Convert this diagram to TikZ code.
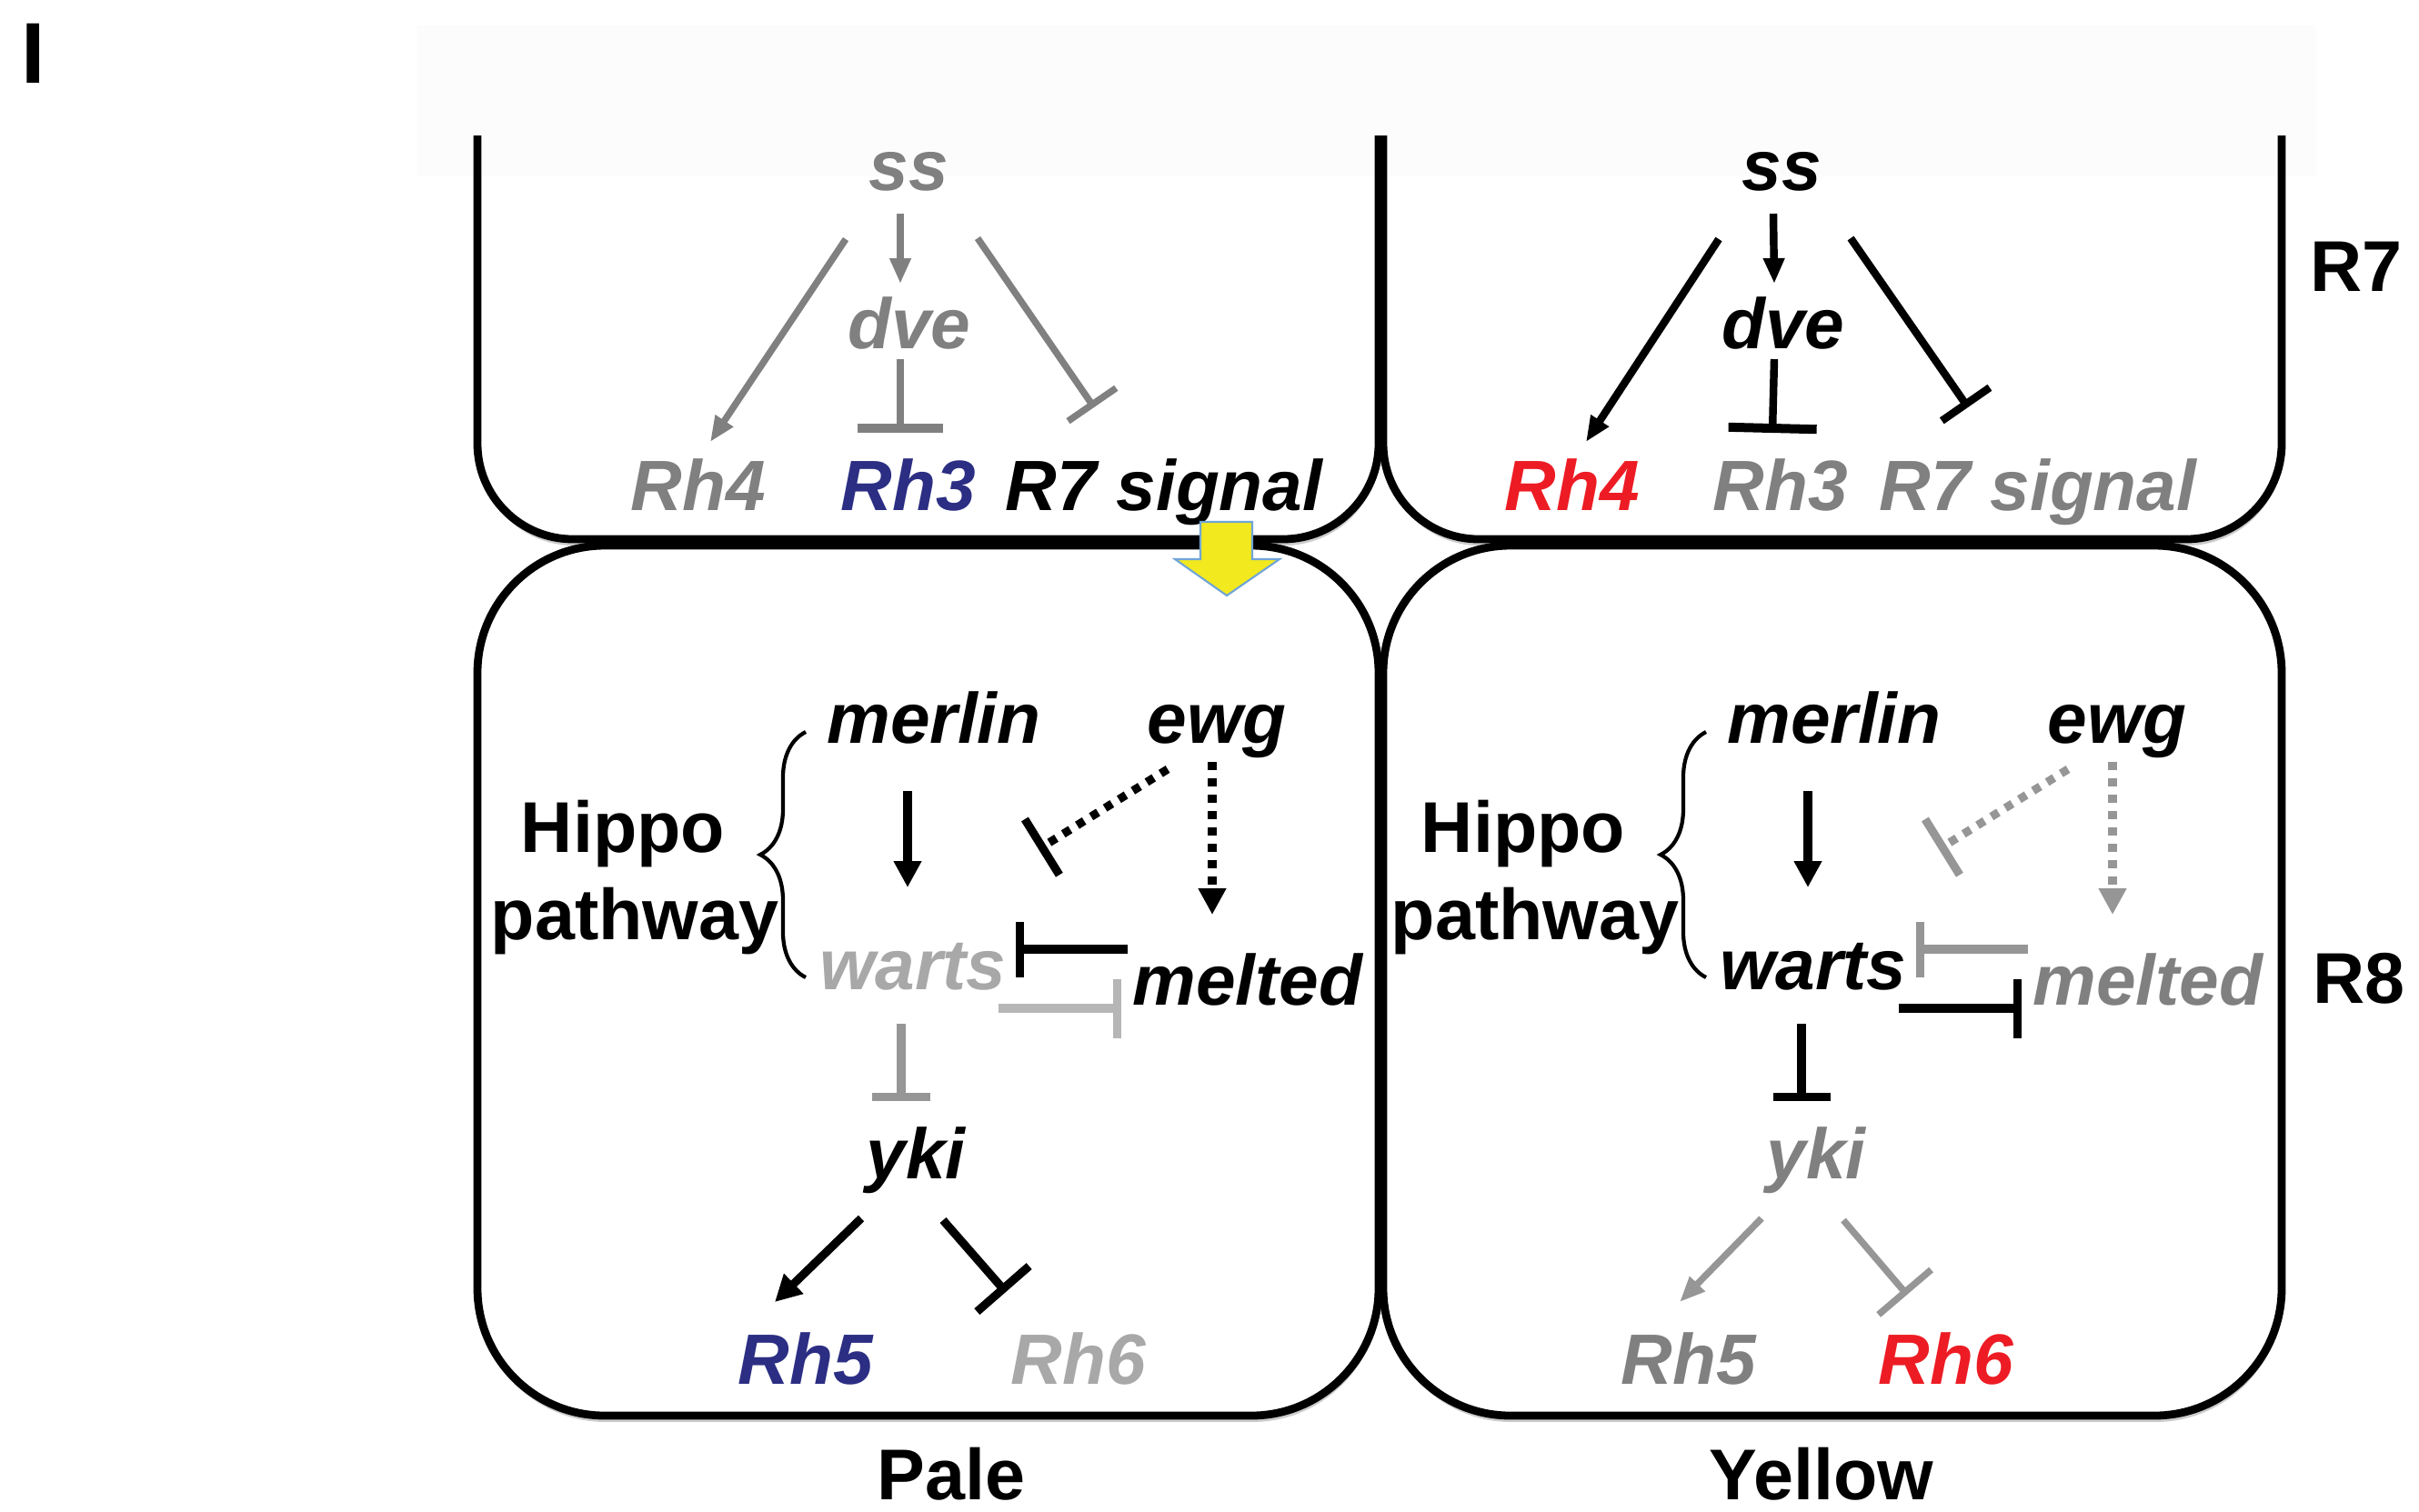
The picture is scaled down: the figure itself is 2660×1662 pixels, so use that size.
\documentclass[tikz,border=0pt]{standalone}
\usepackage{fontspec}
\setmainfont{Liberation Sans}
\usetikzlibrary{arrows.meta,shadows,decorations.pathreplacing}
\definecolor{rhblue}{RGB}{43,46,131}
\definecolor{rhred}{RGB}{237,28,36}
\definecolor{midgray}{RGB}{128,128,128}
\definecolor{softgray}{RGB}{168,168,168}
\definecolor{linegray}{RGB}{150,150,150}
\definecolor{palegray}{RGB}{182,182,182}
\definecolor{signyellow}{RGB}{242,233,30}
\definecolor{signblue}{RGB}{111,165,216}

\begin{document}
\begin{tikzpicture}[x=0.01cm, y=-0.01cm,
        gene/.style={font=\bfseries\itshape\fontsize{22.3}{26}\selectfont, inner sep=0pt, anchor=base},
        lab/.style={font=\bfseries\fontsize{22.5}{26}\selectfont, inner sep=0pt, anchor=base},
        cell/.style={line width=2.5pt, fill=white, drop shadow={shadow xshift=0.3pt, shadow yshift=-2pt, opacity=0.4}},
        tline/.style={line width=2.1pt},
        wline/.style={line width=2.6pt},
        act/.style={-{Triangle[length=0.28cm, width=0.22cm]}},
        bigact/.style={-{Triangle[length=0.29cm, width=0.29cm]}},
        inh/.style={-{Bar[width=#1]}},
        dotline/.style={dash pattern=on 0.09cm off 0.09cm}]
        \useasboundingbox (0,0) rectangle (2660,1662);

        % draw the cells
        \draw[cell, rounded corners=1.05cm] (525,149) -- (525,593) -- (1516,593) -- (1516,149);
        \draw[cell, rounded corners=1.05cm] (1521,149) -- (1521,593) -- (2509,593) -- (2509,149);
        \draw[cell, rounded corners=1.4cm] (525,600) rectangle (1516,1557);
        \draw[cell, rounded corners=1.4cm] (1521,600) rectangle (2509,1557);
        \fill[black, opacity=0.012] (458,28) rectangle (2547,194);

        % names
        \node[lab, font=\bfseries\fontsize{27}{30}\selectfont] (panel) at (37,91) {I};
        \node[lab] (r7) at (2591,320) {R7};
        \node[lab] (r8) at (2594,1103) {R8};
        \node[lab] (pale) at (1046,1649) {Pale};
        \node[lab] (yellow) at (2003,1649) {Yellow};

        % R7, pale
        \node[gene, midgray] (ssA) at (999,209) {ss};
        \node[gene, midgray] (dveA) at (1000,383) {dve};
        \node[gene, midgray] (rh4A) at (768,561) {Rh4};
        \node[gene, rhblue] (rh3A) at (999,561) {Rh3};
        \node[gene] (sigA) at (1280,561) {R7 signal};

        \draw[midgray, tline, act] ([shift={(-9,26)}]ssA.base) -- ([shift={(-10,-71)}]dveA.base);
        \draw[midgray, tline, act] ([shift={(-69,54)}]ssA.base) -- ([shift={(13,-75)}]rh4A.base);
        \draw[midgray, tline, -{Bar[width=0.93cm, line width=0.1cm]}] ([shift={(-10,12)}]dveA.base) -- ([shift={(-9,-85)}]rh3A.base);
        \draw[midgray, tline, inh=0.64cm] ([shift={(76,53)}]ssA.base) -- ([shift={(-77,-113)}]sigA.base);

        % R7, yellow
        \node[gene] (ssB) at (1959,209) {ss};
        \node[gene] (dveB) at (1961,383) {dve};
        \node[gene, rhred] (rh4B) at (1729,561) {Rh4};
        \node[gene, midgray] (rh3B) at (1958,561) {Rh3};
        \node[gene, midgray] (sigB) at (2241,561) {R7 signal};

        \draw[line width=2.4pt, act] ([shift={(-9,26)}]ssB.base) -- ([shift={(-10,-71)}]dveB.base);
        \draw[line width=2.4pt, act] ([shift={(-69,54)}]ssB.base) -- ([shift={(15,-75)}]rh4B.base);
        \draw[line width=2.4pt, -{Bar[width=0.97cm, line width=0.1cm]}] ([shift={(-10,12)}]dveB.base) -- ([shift={(-9,-85)}]rh3B.base);
        \draw[line width=2.4pt, inh=0.64cm] ([shift={(76,53)}]ssB.base) -- ([shift={(-77,-113)}]sigB.base);

        % R8, pale
        \node[lab] (hippoC) at (685,937) {Hippo};
        \node[lab] (pathC) at (698,1033) {pathway};
        \node[gene] (merlinC) at (1027,817) {merlin};
        \node[gene] (ewgC) at (1338,817) {ewg};
        \node[gene, softgray] (wartsC) at (1004,1088) {warts};
        \node[gene] (meltedC) at (1372,1105) {melted};
        \node[gene] (ykiC) at (1007,1296) {yki};
        \node[gene, rhblue] (rh5C) at (886,1522) {Rh5};
        \node[gene, softgray] (rh6C) at (1186,1522) {Rh6};

        \draw[line width=1.2pt, decorate, decoration={brace, amplitude=0.5cm}] ([shift={(-118,-13)}]wartsC.base) -- ([shift={(-141,-12)}]merlinC.base);
        \draw[wline, bigact] ([shift={(-29,53)}]merlinC.base) -- ([shift={(-6,-112)}]wartsC.base);
        \draw[wline, dotline, inh=0.72cm] ([shift={(-54,29)}]ewgC.base) -- ([shift={(138,-154)}]wartsC.base);
        \draw[wline, dotline, bigact] ([shift={(-5,21)}]ewgC.base) -- ([shift={(-39,-99)}]meltedC.base);
        \draw[wline, inh=0.61cm] ([shift={(-132,-61)}]meltedC.base) -- ([shift={(113,-44)}]wartsC.base);
        \draw[palegray, wline, inh=0.65cm] ([shift={(94,21)}]wartsC.base) -- ([shift={(-139,4)}]meltedC.base);
        \draw[linegray, wline, inh=0.63cm] ([shift={(-13,38)}]wartsC.base) -- ([shift={(-16,-85)}]ykiC.base);
        \draw[wline, bigact] ([shift={(-60,44)}]ykiC.base) -- ([shift={(-34,-90)}]rh5C.base);
        \draw[wline, inh=0.76cm] ([shift={(30,46)}]ykiC.base) -- ([shift={(-80,-101)}]rh6C.base);

        % R8, yellow
        \node[lab] (hippoD) at (1675,937) {Hippo};
        \node[lab] (pathD) at (1688,1033) {pathway};
        \node[gene] (merlinD) at (2017,817) {merlin};
        \node[gene] (ewgD) at (2328,817) {ewg};
        \node[gene] (wartsD) at (1994,1088) {warts};
        \node[gene, midgray] (meltedD) at (2362,1105) {melted};
        \node[gene, midgray] (ykiD) at (1997,1296) {yki};
        \node[gene, midgray] (rh5D) at (1857,1522) {Rh5};
        \node[gene, rhred] (rh6D) at (2140,1522) {Rh6};

        \draw[line width=1.2pt, decorate, decoration={brace, amplitude=0.5cm}] ([shift={(-118,-13)}]wartsD.base) -- ([shift={(-141,-12)}]merlinD.base);
        \draw[wline, bigact] ([shift={(-29,53)}]merlinD.base) -- ([shift={(-6,-112)}]wartsD.base);
        \draw[linegray, wline, dotline, inh=0.72cm] ([shift={(-54,29)}]ewgD.base) -- ([shift={(138,-154)}]wartsD.base);
        \draw[linegray, wline, dotline, bigact] ([shift={(-5,21)}]ewgD.base) -- ([shift={(-39,-99)}]meltedD.base);
        \draw[linegray, wline, inh=0.61cm] ([shift={(-132,-61)}]meltedD.base) -- ([shift={(113,-44)}]wartsD.base);
        \draw[wline, inh=0.65cm] ([shift={(94,21)}]wartsD.base) -- ([shift={(-139,4)}]meltedD.base);
        \draw[wline, inh=0.63cm] ([shift={(-13,38)}]wartsD.base) -- ([shift={(-16,-85)}]ykiD.base);
        \draw[linegray, tline, act] ([shift={(-60,44)}]ykiD.base) -- ([shift={(-10,-90)}]rh5D.base);
        \draw[linegray, tline, inh=0.76cm] ([shift={(30,46)}]ykiD.base) -- ([shift={(-43,-98)}]rh6D.base);

        % signal from R7 to R8
        \filldraw[fill=signyellow, draw=signblue, line width=0.6pt] (1320,574) -- (1377,574) -- (1377,615) -- (1407,615) -- (1349,655) -- (1292,615) -- (1320,615) -- cycle;

    \end{tikzpicture}
\end{document}
